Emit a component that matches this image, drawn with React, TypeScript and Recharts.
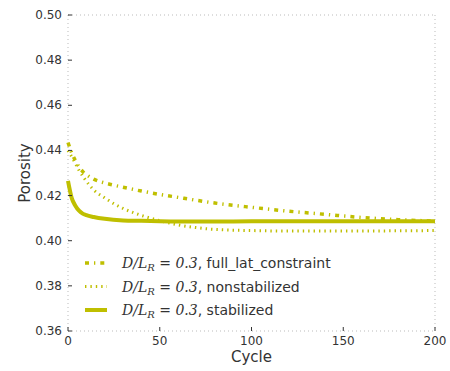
import { CartesianGrid, Line, LineChart, XAxis, YAxis } from "recharts";

const fullLatCycles = [0, 2, 4, 6, 8, 10, 14, 20, 25, 30, 40, 50, 60, 70, 80, 100, 120, 140, 160, 180, 200];
const fullLatPorosity = [
  0.4435, 0.439, 0.4355, 0.4327, 0.4307, 0.4293, 0.4273, 0.4256, 0.4246, 0.4237, 0.422, 0.4205, 0.4192,
  0.4179, 0.4167, 0.4148, 0.4131, 0.4117, 0.4103, 0.4093, 0.4087,
];

const nonstabCycles = [0, 3, 6, 9, 14, 20, 25, 30, 40, 50, 60, 70, 80, 100, 120, 140, 160, 180, 200];
const nonstabPorosity = [
  0.44, 0.4358, 0.4312, 0.4275, 0.4225, 0.419, 0.4164, 0.4143, 0.4112, 0.4089, 0.407, 0.4058, 0.405,
  0.4045, 0.4043, 0.4043, 0.4043, 0.4044, 0.4045,
];

const stabCycles = [0, 2, 4, 6, 8, 10, 14, 20, 30, 40, 50, 60, 80, 100, 120, 140, 160, 180, 200];
const stabPorosity = [
  0.4265, 0.419, 0.4155, 0.4133, 0.412, 0.4113, 0.4105, 0.4097, 0.409, 0.4088, 0.4086, 0.4085, 0.4085,
  0.4086, 0.4086, 0.4086, 0.4086, 0.4086, 0.4086,
];

const xTicks = [0, 50, 100, 150, 200];
const yTicks = [0.36, 0.38, 0.4, 0.42, 0.44, 0.46, 0.48, 0.5];

const legendLabels = ["full_lat_constraint", "nonstabilized", "stabilized"];

const COLOR = "#bfbf00";
const TEXT = "#333";
const FONT = "DejaVu Sans";

const toRows = (xs: number[], ys: number[]) => xs.map((cycle, i) => ({ cycle, porosity: ys[i] }));

const fullLatData = toRows(fullLatCycles, fullLatPorosity);
const nonstabData = toRows(nonstabCycles, nonstabPorosity);
const stabData = toRows(stabCycles, stabPorosity);

const dashes = ["4 5 1.3 5", "1.4 4", undefined];
const widths = [3.5, 3, 4];

function BottomTick({ x, y, payload }: any) {
  return (
    <g>
      <line x1={x} x2={x} y1={y} y2={y - 4} stroke={TEXT} strokeWidth={1} />
      <text x={x} y={y + 14} textAnchor="middle" fill={TEXT} fontSize={12} fontFamily={FONT}>
        {payload.value}
      </text>
    </g>
  );
}

function TopTick({ x, y }: any) {
  return <line x1={x} x2={x} y1={y} y2={y + 4} stroke={TEXT} strokeWidth={1} />;
}

function LeftTick({ x, y, payload }: any) {
  return (
    <g>
      <line x1={x} x2={x + 4} y1={y} y2={y} stroke={TEXT} strokeWidth={1} />
      <text x={x - 6} y={y + 4} textAnchor="end" fill={TEXT} fontSize={12} fontFamily={FONT}>
        {payload.value.toFixed(2)}
      </text>
    </g>
  );
}

function RightTick({ x, y }: any) {
  return <line x1={x} x2={x - 4} y1={y} y2={y} stroke={TEXT} strokeWidth={1} />;
}

function PlotLegend() {
  return (
    <svg width={270} height={72} style={{ position: "absolute", left: 80, top: 252 }}>
      {legendLabels.map((label, i) => {
        const cy = 11 + i * 23.5;
        return (
          <g key={label}>
            <line
              x1={5}
              x2={27}
              y1={cy}
              y2={cy}
              stroke={COLOR}
              strokeWidth={widths[i]}
              strokeDasharray={dashes[i]}
            />
            <text x={42} y={cy + 5} fontSize={14} fill={TEXT}>
              <tspan fontFamily="DejaVu Serif" fontStyle="italic">D/L</tspan>
              <tspan fontFamily="DejaVu Serif" fontStyle="italic" fontSize={10} dy={3}>R</tspan>
              <tspan fontFamily="DejaVu Serif" dy={-3}> = </tspan>
              <tspan fontFamily="DejaVu Serif" fontStyle="italic">0.3</tspan>
              <tspan fontFamily={FONT}>, {label}</tspan>
            </text>
          </g>
        );
      })}
    </svg>
  );
}

export default function App() {
  return (
    <div style={{ position: "absolute", left: 0, top: 0, width: 450, height: 371, background: "#fff" }}>
      <LineChart width={450} height={371} margin={{ top: 15, right: 15, bottom: 20, left: 18 }}>
        <CartesianGrid stroke="#bbb" strokeDasharray="1 3" />
        <XAxis
          xAxisId="b"
          dataKey="cycle"
          type="number"
          domain={[0, 200]}
          ticks={xTicks}
          allowDuplicatedCategory={false}
          axisLine={false}
          tickLine={false}
          tickSize={0}
          tickMargin={0}
          height={20}
          tick={<BottomTick />}
          label={{ value: "Cycle", position: "bottom", offset: 0, fontSize: 15, fill: TEXT, fontFamily: FONT }}
        />
        <XAxis
          xAxisId="t"
          orientation="top"
          dataKey="cycle"
          type="number"
          domain={[0, 200]}
          ticks={xTicks}
          allowDuplicatedCategory={false}
          axisLine={false}
          tickLine={false}
          tickSize={0}
          tickMargin={0}
          height={0}
          tick={<TopTick />}
        />
        <YAxis
          yAxisId="l"
          type="number"
          domain={[0.36, 0.5]}
          ticks={yTicks}
          axisLine={false}
          tickLine={false}
          tickSize={0}
          tickMargin={0}
          width={50}
          tick={<LeftTick />}
          label={{
            value: "Porosity",
            angle: -90,
            position: "insideLeft",
            offset: 7,
            style: { textAnchor: "middle" },
            fontSize: 15,
            fill: TEXT,
            fontFamily: FONT,
          }}
        />
        <YAxis
          yAxisId="r"
          orientation="right"
          type="number"
          domain={[0.36, 0.5]}
          ticks={yTicks}
          axisLine={false}
          tickLine={false}
          tickSize={0}
          tickMargin={0}
          width={0}
          tick={<RightTick />}
        />
        <Line
          xAxisId="b"
          yAxisId="l"
          data={fullLatData}
          dataKey="porosity"
          type="monotone"
          stroke={COLOR}
          strokeWidth={widths[0]}
          strokeDasharray={dashes[0]}
          dot={false}
          isAnimationActive={false}
        />
        <Line
          xAxisId="b"
          yAxisId="l"
          data={nonstabData}
          dataKey="porosity"
          type="monotone"
          stroke={COLOR}
          strokeWidth={widths[1]}
          strokeDasharray={dashes[1]}
          dot={false}
          isAnimationActive={false}
        />
        <Line
          xAxisId="b"
          yAxisId="l"
          data={stabData}
          dataKey="porosity"
          type="monotone"
          stroke={COLOR}
          strokeWidth={widths[2]}
          dot={false}
          isAnimationActive={false}
        />
      </LineChart>
      <PlotLegend />
    </div>
  );
}
